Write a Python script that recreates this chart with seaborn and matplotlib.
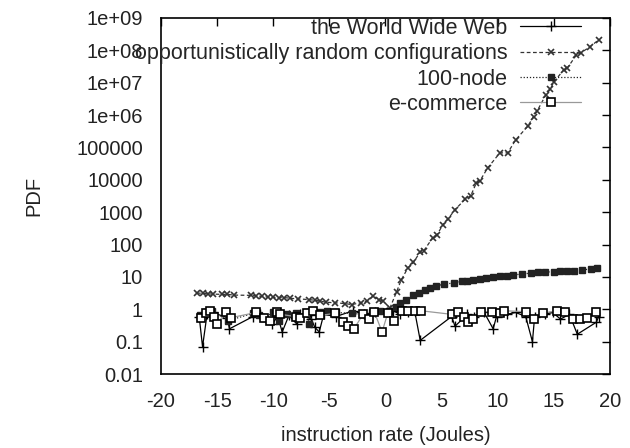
import matplotlib
matplotlib.use("Agg")
import matplotlib.pyplot as plt
import seaborn as sns
import numpy as np

# ---- data ----
www_x = [-16.6, -16.3, -15.9, -15.4, -14.1, -13.9, -11.8, -11.2, -10.6, -10.1,
         -9.6, -9.2, -8.6, -7.9, -7.6, -6.6, -6.3, -5.9, -5.5, -4.4,
         -2.9, -1.9, -0.9, 0.1, 0.7, 1.3, 2.0, 2.6, 3.1, 5.9,
         6.2, 7.3, 7.9, 8.8, 9.6, 9.9, 10.8, 11.6, 12.5, 13.1,
         13.3, 14.2, 14.9, 15.6, 16.4, 17.1, 18.8, 19.0]
www_y = [0.6, 0.07, 0.7, 0.8, 0.55, 0.25, 0.6, 0.7, 0.5, 0.35,
         0.6, 0.2, 0.65, 0.35, 0.7, 0.5, 0.28, 0.2, 0.7, 0.6,
         0.9, 0.7, 0.8, 0.8, 0.9, 0.7, 0.8, 0.9, 0.11, 0.6,
         0.3, 0.7, 0.6, 0.8, 0.25, 0.6, 0.7, 0.8, 0.6, 0.1,
         0.6, 0.7, 0.8, 0.5, 0.7, 0.17, 0.4, 0.6]

opp_x = [-16.8, -16.3, -15.8, -15.4, -14.6, -14.1, -13.5, -12.0, -11.5, -11.0,
         -10.5, -10.0, -9.5, -9.0, -8.5, -7.8, -6.8, -6.3, -5.8, -5.3,
         -4.5, -3.6, -3.0, -2.2, -1.6, -1.1, -0.6, -0.2, 0.4, 1.0,
         1.4, 2.0, 2.5, 3.1, 3.4, 4.2, 4.6, 5.1, 5.6, 6.2,
         7.1, 7.6, 8.1, 8.4, 9.1, 10.2, 10.9, 11.6, 12.7, 13.2,
         13.5, 14.3, 14.7, 15.0, 15.9, 16.2, 17.0, 17.4, 18.2, 19.0]
opp_y = [3.2, 3.1, 3.0, 2.95, 2.9, 2.9, 2.75, 2.7, 2.6, 2.5,
         2.4, 2.35, 2.3, 2.3, 2.2, 2.1, 2.0, 1.9, 1.8, 1.65,
         1.6, 1.5, 1.4, 1.6, 1.8, 2.6, 2.0, 1.8, 1.1, 3.5,
         8, 19, 28, 60, 63, 160, 200, 400, 630, 1200,
         2500, 3200, 8000, 9000, 23000, 68000, 68000, 170000, 460000, 9e5,
         1.3e6, 4.2e6, 6.3e6, 1.05e7, 2.5e7, 2.8e7, 7e7, 8.3e7, 1.26e8, 2.1e8]

node_x = [-16.5, -16.0, -15.5, -14.0, -11.8, -11.3, -10.8, -10.0, -9.5, -8.8,
          -8.0, -7.6, -7.0, -6.8, -6.4, -5.8, -5.2, -4.4, -3.0, -2.0,
          -1.2, -0.5, 0.3, 0.9, 1.3, 1.8, 2.5, 3.0, 3.5, 4.0,
          4.5, 5.2, 6.1, 6.8, 7.3, 7.8, 8.4, 9.0, 9.6, 10.2,
          10.8, 11.4, 12.2, 13.0, 13.6, 14.2, 15.0, 15.6, 16.2, 16.8,
          17.5, 18.3, 18.9]
node_y = [0.65, 0.8, 0.9, 0.45, 0.75, 0.65, 0.55, 0.8, 0.45, 0.7,
          0.75, 0.6, 0.85, 0.35, 0.8, 0.8, 0.9, 0.8, 0.75, 0.7,
          0.8, 0.9, 0.9, 1.2, 1.55, 1.9, 2.7, 3.3, 3.9, 4.6,
          5.2, 6.0, 6.5, 7.3, 7.6, 8.0, 8.6, 9.2, 10.0, 10.5,
          10.8, 11.5, 12.3, 13.2, 13.8, 14.1, 14.5, 15.0, 15.2, 15.5,
          16.5, 17.5, 19.0]

ecom_x = [-16.4, -16.0, -15.6, -15.3, -15.0, -14.2, -13.8, -11.5, -10.8, -10.3,
          -9.7, -9.4, -8.0, -7.6, -7.0, -6.5, -5.8, -4.5, -3.8, -3.3,
          -2.8, -2.0, -1.5, -1.0, -0.3, 0.2, 0.8, 1.5, 2.0, 2.6,
          3.2, 5.9, 6.5, 7.0, 7.4, 7.8, 8.5, 9.5, 10.2, 10.6,
          12.5, 13.2, 14.0, 15.3, 16.0, 16.7, 17.3, 18.0, 18.8]
ecom_y = [0.55, 0.75, 0.9, 0.6, 0.35, 0.85, 0.55, 0.8, 0.55, 0.45,
          0.8, 0.7, 0.6, 0.55, 0.75, 0.9, 0.65, 0.75, 0.4, 0.3,
          0.25, 0.7, 0.5, 0.85, 0.2, 0.75, 0.45, 0.9, 0.9, 0.9,
          0.9, 0.7, 0.85, 0.6, 0.4, 0.5, 0.85, 0.85, 0.75, 0.9,
          0.85, 0.5, 0.75, 0.9, 0.8, 0.5, 0.5, 0.55, 0.8]

labels = ["the World Wide Web", "opportunistically random configurations",
          "100-node", "e-commerce"]
x_ticks = [-20, -15, -10, -5, 0, 5, 10, 15, 20]
y_ticks = [0.01, 0.1, 1, 10, 100, 1000, 10000, 100000, 1e6, 1e7, 1e8, 1e9]
y_tick_labels = ["0.01", "0.1", "1", "10", "100", "1000", "10000", "100000",
                 "1e+06", "1e+07", "1e+08", "1e+09"]

sns.set_style("white")
plt.rcParams['font.family'] = ['Liberation Sans', 'DejaVu Sans']

fig = plt.figure(figsize=(6.3, 4.48), dpi=100)
ax = fig.add_axes([0.2556, 0.165, 0.7124, 0.795])

styles = [
    dict(x=www_x, y=www_y, color="black", linestyle="-", marker="+", ms=7, mew=1.0, mfc="black"),
    dict(x=opp_x, y=opp_y, color="#333333", linestyle=(0, (3, 2)), marker="x", ms=5, mew=1.2, mfc="#333333"),
    dict(x=node_x, y=node_y, color="#222222", linestyle=(0, (1, 1.5)), marker="s", ms=5, mew=1.0, mfc="#222222"),
    dict(x=ecom_x, y=ecom_y, color="#999999", linestyle="-", marker="s", ms=6, mew=1.2, mfc="white"),
]
for st, lab in zip(styles, labels):
    mec = "black" if st["marker"] == "s" and st["mfc"] == "white" else st["color"]
    sns.lineplot(x=st["x"], y=st["y"], ax=ax, sort=False, estimator=None,
                 color=st["color"], linestyle=st["linestyle"], linewidth=0.9,
                 marker=st["marker"], markersize=st["ms"], markeredgewidth=st["mew"],
                 markerfacecolor=st["mfc"], markeredgecolor=mec, label=lab)

ax.set_yscale("log")
ax.set_xlim(-20, 20)
ax.set_ylim(0.01, 1e9)
ax.set_xticks(x_ticks)
ax.set_xticklabels([str(v) for v in x_ticks])
ax.set_yticks(y_ticks)
ax.set_yticklabels(y_tick_labels)
ax.yaxis.set_minor_locator(matplotlib.ticker.NullLocator())
ax.tick_params(axis="both", which="major", direction="in", length=6, width=1,
               top=True, right=True, labelsize=14.5, colors="black")
ax.tick_params(axis="y", pad=13)
ax.tick_params(axis="x", pad=13)
ax.tick_params(axis="both", labelcolor="#222222")
for sp in ax.spines.values():
    sp.set_color("black")
    sp.set_linewidth(1.2)

ax.set_xlabel("instruction rate (Joules)", fontsize=14.5, color="#222222", labelpad=11)
ax.set_ylabel("PDF", fontsize=14.5, color="#222222", labelpad=24)

leg = ax.legend(loc="upper right", bbox_to_anchor=(0.935, 1.0), frameon=False,
                markerfirst=False, fontsize=15.5, handlelength=2.8, handletextpad=0.6,
                labelspacing=0.2, borderaxespad=0.0, borderpad=0.0, numpoints=1)
for vp in leg._legend_handle_box.get_children():
    vp.align = "right"

fig.savefig("out.png", dpi=100)
